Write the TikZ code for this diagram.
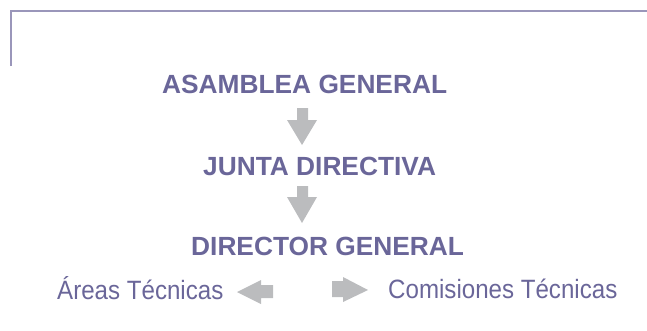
\documentclass[tikz,border=0pt]{standalone}
\usepackage{fontspec}
\setmainfont{Liberation Sans}
\newfontfamily\condfont[FakeStretch=0.91]{Liberation Sans}
\definecolor{txt}{HTML}{6A6699}
\definecolor{arr}{HTML}{BBBCBE}
\definecolor{frame}{HTML}{9A96BA}
\begin{document}
\begin{tikzpicture}[x=1pt,y=-1pt,
  head/.style={anchor=base west,inner sep=0pt,text=txt,font=\fontsize{26.3}{30}\selectfont\bfseries},
  sub/.style={anchor=base west,inner sep=0pt,text=txt,font=\fontsize{26.5}{30}\selectfont\condfont},
  blockarrow/.style={fill=arr,draw=none}]
\useasboundingbox (0,0) rectangle (647,330);
\draw[frame,line width=2pt] (11,66) -- (11,11) -- (647,11);
\node[head] (asam) at (162,93) {ASAMBLEA GENERAL};
\node[head] (junta) at (203,175) {JUNTA DIRECTIVA};
\node[head] (dir) at (191,255) {DIRECTOR GENERAL};
\node[sub] (areas) at (57,299) {Áreas Técnicas};
\node[sub] (comi) at (388,298) {Comisiones Técnicas};
% down arrows
\fill[blockarrow] (297,108) -- (308,108) -- (308,120) -- (317,120) -- (302,145) -- (287,120) -- (297,120) -- cycle;
\fill[blockarrow] (297,186) -- (308,186) -- (308,197) -- (317,197) -- (302,223) -- (287,197) -- (297,197) -- cycle;
% left arrow
\fill[blockarrow] (273,285) -- (273,298) -- (261,298) -- (261,304) -- (237,292) -- (261,280) -- (261,285) -- cycle;
% right arrow
\fill[blockarrow] (332,281) -- (343,281) -- (343,277) -- (368,290) -- (343,302) -- (343,297) -- (332,297) -- cycle;
\end{tikzpicture}
\end{document}
